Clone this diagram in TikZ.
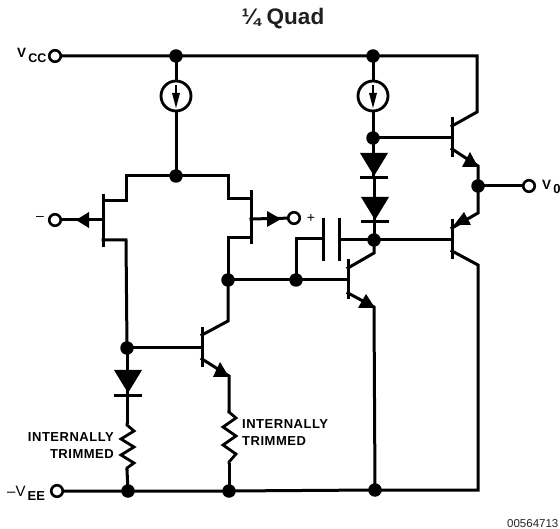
\documentclass[tikz,border=0pt]{standalone}
\usepackage{fontspec}
\setmainfont{Liberation Sans}
\begin{document}
\begin{tikzpicture}[x=1pt,y=-1pt,
  wire/.style={line width=3pt,line join=miter,line cap=rect},
  thinw/.style={line width=1.3pt},
  dot/.style={circle,fill=black,inner sep=0pt,minimum size=13.5pt},
  term/.style={circle,draw=black,fill=white,line width=2.6pt,inner sep=0pt,minimum size=11.5pt},
  isrc/.style={circle,draw=black,fill=white,line width=2.8pt,inner sep=0pt,minimum size=30pt},
  lab/.style={inner sep=0pt,font=\fontsize{13.5}{13.5}\selectfont\bfseries,anchor=base west},
  trim/.style={inner sep=0pt,font=\fontsize{13}{17.5}\selectfont\bfseries\addfontfeatures{LetterSpace=4}},
]
\useasboundingbox (0,0) rectangle (560,529);
\fill[white] (0,0) rectangle (560,529);

% --- named points
\node[term] (vcc) at (55,56) {};
\node[term] (vee) at (57,491) {};
\node[term] (vo)  at (529,186) {};
\node[term] (inm) at (55,220) {};
\node[term] (inp) at (294,218) {};
\node[dot] (j1) at (176,56) {};
\node[dot] (j2) at (373,56) {};
\node[dot] (j3) at (176,176) {};
\node[dot] (j4) at (373,138) {};
\node[dot] (j5) at (374,240) {};
\node[dot] (j6) at (478,186) {};
\node[dot] (j7) at (228,280) {};
\node[dot] (j8) at (296,280) {};
\node[dot] (j9) at (127,348) {};
\node[dot] (j10) at (128,491) {};
\node[dot] (j11) at (229,491) {};
\node[dot] (j12) at (375,490) {};
\coordinate (tr) at (477,56);
\coordinate (br) at (478,490);

% --- supply rails
\draw[wire] (vcc) -- (j1) -- (j2) -- (tr) -- (477,112) -- (452,126);
\draw[wire] (vee) -- (j10) -- (j11) -- (j12) -- (br) -- (478,265) -- (452,251);

% --- current source branches
\draw[wire] (j1) -- (j3);
\draw[wire] (j2) -- (j4) -- (373,178);
\draw[wire] (374,178) -- (j5);

% --- differential pair
\draw[wire] (126,201) -- (126,176) -- (j3) -- (228,176) -- (228,199) -- (251,199);
\draw[wire] (103,201) -- (126,201);
\draw[wire] (103,240) -- (126,240) -- (j9);
\draw[wire] (251,238) -- (228,238) -- (j7);
\draw[wire,line cap=butt] (103,194) -- (103,247);
\draw[wire,line cap=butt] (251,190) -- (251,244);
\draw[wire] (inm) -- (103,220);
\draw[wire] (251,219) -- (inp);
\fill (76,220) -- (89,212) -- (89,228) -- cycle;
\fill (281,219) -- (267,211) -- (267,227) -- cycle;

% --- node connections and capacitor
\draw[wire] (j7) -- (348,280);
\draw[wire] (j8) -- (296,239) -- (323,239);
\draw[wire] (339,240) -- (j5) -- (452,240);
\draw[wire,line cap=butt] (323,218) -- (323,261);
\draw[wire,line cap=butt] (339,218) -- (339,261);

% --- output transistors
\draw[wire] (j4) -- (452,138);
\draw[wire,line cap=butt] (452,117) -- (452,157);
\draw[wire] (452,149) -- (478,166) -- (j6) -- (478,213) -- (452,228);
\draw[wire,line cap=butt] (452,219) -- (452,259);
\fill (478,167) -- (470,152) -- (462,167) -- cycle;
\fill (454,225) -- (464,212) -- (471,225) -- cycle;
\draw[wire] (j6) -- (vo);

% --- driver transistor
\draw[wire,line cap=butt] (348,259) -- (348,299);
\draw[wire] (348,268) -- (374,253) -- (j5);
\draw[wire] (348,293) -- (374,307) -- (j12);
\fill (375,308) -- (366,294) -- (358,308) -- cycle;

% --- lower transistor
\draw[wire] (j9) -- (202,348);
\draw[wire,line cap=butt] (202,327) -- (202,367);
\draw[wire] (202,335) -- (228,321) -- (j7);
\draw[wire] (202,359) -- (229,376) -- (229,412);
\fill (229,377) -- (220,362) -- (213,377) -- cycle;

% --- resistors
\draw[wire,line cap=butt,line width=2.8pt,miter limit=10] (229,410) -- (229,412) -- (236,418) -- (223,427) -- (236,436) -- (223,445) -- (236,454) -- (229,462) -- (229,464);
\draw[wire] (229,464) -- (j11);
\draw[wire,line cap=butt,line width=2.8pt,miter limit=10] (127,423) -- (127,425) -- (134,431) -- (121,439) -- (134,447) -- (121,455) -- (134,463) -- (127,468) -- (127,470);
\draw[wire] (127,470) -- (j10);

% --- left diode
\draw[wire] (j9) -- (127,423);
\fill (114,370) -- (142,370) -- (128,393) -- cycle;
\draw[wire,line cap=butt] (114,396) -- (142,396);

% --- stacked diodes
\fill (360,153) -- (388,153) -- (374,176) -- cycle;
\draw[wire,line cap=butt] (360,178) -- (388,178);
\fill (361,197) -- (389,197) -- (375,220) -- cycle;
\draw[wire,line cap=butt] (361,222) -- (389,222);

% --- current sources drawn above wires
\node[isrc] (cs1) at (176,96) {};
\node[isrc] (cs2) at (373,96) {};
\draw[thinw] (176,85) -- (176,97);
\fill (172,93) -- (180,93) -- (176,108) -- cycle;
\draw[thinw] (373,85) -- (373,97);
\fill (369,93) -- (377,93) -- (373,108) -- cycle;

% --- labels
\node[lab] (lvcc) at (17,58) {V\raisebox{-5pt}{\fontsize{12.5}{12.5}\selectfont\,CC}};
\node[lab,font=\fontsize{15}{15}\selectfont] (lvee) at (7,496) {–V\raisebox{-4pt}{\fontsize{13}{13}\selectfont\bfseries\,EE}};
\node[lab] (lvo) at (542,190) {V\raisebox{-4pt}{\fontsize{13}{13}\selectfont\bfseries\,0}};
\node[inner sep=0pt,font=\fontsize{14}{14}\selectfont] (lm) at (40,218) {–};
\node[inner sep=0pt,font=\fontsize{14}{14}\selectfont] (lp) at (311,218) {+};
\node[trim,align=right,anchor=east] (t1) at (114,445.5) {INTERNALLY\\TRIMMED};
\node[trim,align=left,anchor=west] (t2) at (242,432.5) {INTERNALLY\\TRIMMED};
\node[inner sep=0pt,text=black!88,font=\fontsize{22.5}{22.5}\selectfont\bfseries] (title) at (283,18.5) {¼ Quad};
\node[inner sep=0pt,anchor=base west,font=\fontsize{11.5}{11.5}\selectfont,text=black!85] (fig) at (507,527) {00564713};
\end{tikzpicture}
\end{document}
